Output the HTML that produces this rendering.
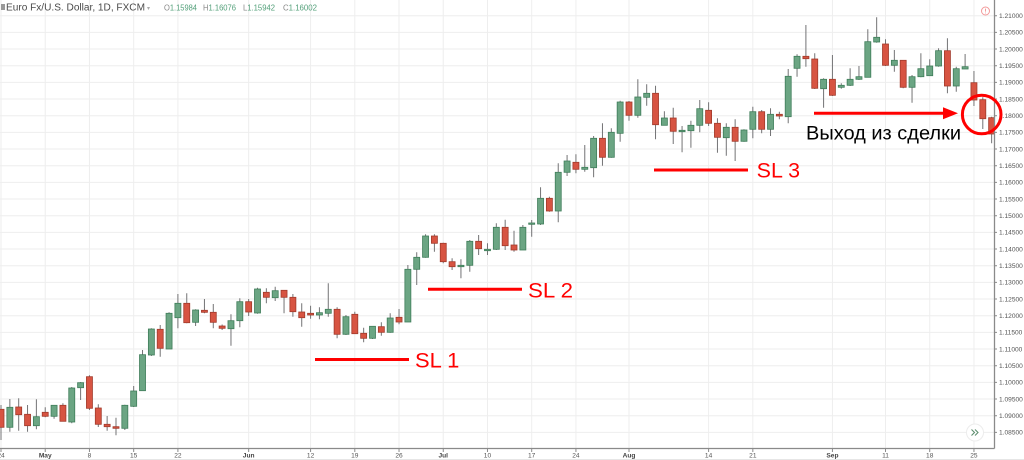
<!DOCTYPE html>
<html><head><meta charset="utf-8"><style>
html,body{margin:0;padding:0;background:#fff;}
svg{display:block;}
.u{fill:#6ba583;stroke:#3f7d5a;stroke-width:.8}
.d{fill:#d75442;stroke:#a13a2b;stroke-width:.8}
.yl{font-family:"Liberation Sans",sans-serif;font-size:6.6px;fill:#555}
.xl{font-family:"Liberation Sans",sans-serif;font-size:6.6px;fill:#555;text-anchor:middle}
.xb{font-weight:bold;fill:#444}
.sl{font-family:"Liberation Sans",sans-serif;font-size:21px;fill:#ff0000}
</style></head><body>
<svg width="1024" height="460" viewBox="0 0 1024 460" xmlns="http://www.w3.org/2000/svg">
<rect width="1024" height="460" fill="#fff"/>
<defs><clipPath id="c"><rect x="0" y="0" width="994" height="448"/></clipPath></defs>
<g clip-path="url(#c)">
<g stroke="#eeeeee" stroke-width="1">
<path d="M0 15.7H994M0 32.37H994M0 49.03H994M0 65.7H994M0 82.37H994M0 99.03H994M0 115.7H994M0 132.37H994M0 149.03H994M0 165.7H994M0 182.37H994M0 199.03H994M0 215.7H994M0 232.37H994M0 249.03H994M0 265.7H994M0 282.37H994M0 299.03H994M0 315.7H994M0 332.37H994M0 349.03H994M0 365.7H994M0 382.37H994M0 399.03H994M0 415.7H994M0 432.37H994"/>
<path d="M1 0V448M45.23 0V448M89.45 0V448M133.68 0V448M177.9 0V448M248.66 0V448M310.58 0V448M354.8 0V448M399.03 0V448M443.25 0V448M487.48 0V448M531.7 0V448M575.93 0V448M629 0V448M708.6 0V448M752.83 0V448M832.43 0V448M885.5 0V448M929.73 0V448M973.95 0V448"/>
</g>
<path stroke="#737375" stroke-width="1" fill="none" d="M1 405V440M9.85 399V431.7M18.69 398.3V430.7M27.54 405V431.7M36.38 399.3V429.3M45.23 407.3V417.3M54.07 405.3V418.7M62.92 403.3V421.3M71.76 387V423.3M80.61 382V400M89.45 375.3V410M98.3 404.3V427M107.14 416V430.7M115.99 417.7V435.3M124.83 404.7V430M133.68 386V407M142.52 350V390.7M151.37 328.3V356M160.21 325V356.7M169.06 312.3V349M177.9 294V328.3M186.75 293.3V323.3M195.59 309.3V326M204.44 299V313.3M213.28 304V328.3M222.13 324.5V330M230.97 314.3V345.7M239.82 298.3V327.3M248.66 299V316M257.51 287.7V313.7M266.35 288.3V303.3M275.2 286.7V301M284.04 290V313.3M292.89 294V316.7M301.73 303.3V326.7M310.58 305.7V318.7M319.42 307.3V319.3M328.27 283.3V316.7M337.11 307.3V338.3M345.96 315V335M354.8 311.7V334M363.65 327.7V342.3M372.49 326V339M381.34 322.3V335.7M390.18 313.3V332.7M399.03 309V324.3M407.87 265V322M416.72 252.3V285M425.56 234.3V257.7M434.41 234.3V251.7M443.25 242.7V263.3M452.1 258.3V270M460.94 259.3V278.3M469.79 240V271.7M478.63 235V255M487.48 243.3V255M496.32 223.3V250M505.17 219.7V250M514.01 230.7V251.7M522.86 225V250M531.7 220V236.7M540.55 187.3V225M549.39 196.7V211.7M558.24 163.3V222.3M567.08 155V176M575.93 154.3V173.3M584.77 145V171.7M593.62 136V177.3M602.46 123.3V165.7M611.31 128.3V157.7M620.15 100.7V141.7M629 101V120.7M637.84 79.3V117.7M646.69 84.3V105.7M655.53 85.7V139.3M664.38 111.3V125.3M673.22 107.7V144M682.07 126V152.3M690.91 120.7V147.7M699.76 100V132.3M708.6 102.3V126M717.45 118.3V152.7M726.29 123.3V155.7M735.14 119.3V161M743.98 129.3V141.7M752.83 106.7V138.3M761.67 110V133.3M770.52 108.3V136M779.36 111.7V119.3M788.21 69V123.3M797.05 54.3V76.7M805.9 25V66.7M814.74 53.3V89M823.59 78.3V107.7M832.43 55V96M841.28 83.3V88.7M850.12 68.3V86M858.97 66V80M867.81 29.3V77.3M876.66 17.3V42.7M885.5 39.3V66M894.35 50V71.7M903.19 60V88.3M912.04 75V102.7M920.88 53.3V77.3M929.73 59.3V76M938.57 48.3V66.7M947.42 38.3V93.3M956.26 66.7V91.7M965.11 54V69M973.95 71V106M982.8 97.3V129M991.64 116.7V143.3"/>
<g class="u">
<rect x="6.85" y="407.3" width="6" height="20"/>
<rect x="33.38" y="416.7" width="6" height="9"/>
<rect x="51.07" y="405.3" width="6" height="11"/>
<rect x="68.76" y="388" width="6" height="34"/>
<rect x="77.61" y="382.7" width="6" height="5"/>
<rect x="121.83" y="405.3" width="6" height="23"/>
<rect x="130.68" y="391" width="6" height="15.3"/>
<rect x="139.52" y="354.7" width="6" height="36"/>
<rect x="148.37" y="329" width="6" height="26"/>
<rect x="166.06" y="313.3" width="6" height="35.7"/>
<rect x="174.9" y="303.3" width="6" height="14.4"/>
<rect x="192.59" y="310" width="6" height="12.3"/>
<rect x="227.97" y="320.7" width="6" height="8"/>
<rect x="236.82" y="301.7" width="6" height="19"/>
<rect x="254.51" y="289" width="6" height="24"/>
<rect x="272.2" y="290.7" width="6" height="7"/>
<rect x="316.42" y="312.7" width="6" height="2.3"/>
<rect x="325.27" y="309.3" width="6" height="4"/>
<rect x="342.96" y="316.7" width="6" height="17.6"/>
<rect x="369.49" y="326.3" width="6" height="12"/>
<rect x="387.18" y="318" width="6" height="14.3"/>
<rect x="404.87" y="269.3" width="6" height="52.7"/>
<rect x="413.72" y="257.3" width="6" height="12"/>
<rect x="422.56" y="236" width="6" height="21.3"/>
<rect x="457.94" y="265.3" width="6" height="1.4"/>
<rect x="466.79" y="241.3" width="6" height="24"/>
<rect x="484.48" y="249.3" width="6" height="1.4"/>
<rect x="493.32" y="227.3" width="6" height="22"/>
<rect x="519.86" y="227.3" width="6" height="22.7"/>
<rect x="528.7" y="223" width="6" height="1.3"/>
<rect x="537.55" y="198.3" width="6" height="25.7"/>
<rect x="555.24" y="172.3" width="6" height="38.7"/>
<rect x="564.08" y="161" width="6" height="11.3"/>
<rect x="581.77" y="167.3" width="6" height="2"/>
<rect x="590.62" y="138.3" width="6" height="29.4"/>
<rect x="608.31" y="132.3" width="6" height="25"/>
<rect x="617.15" y="102" width="6" height="31.3"/>
<rect x="634.84" y="97" width="6" height="18.3"/>
<rect x="643.69" y="93.3" width="6" height="4"/>
<rect x="661.38" y="118" width="6" height="7.3"/>
<rect x="679.07" y="130.3" width="6" height="1.4"/>
<rect x="687.91" y="125.3" width="6" height="5.4"/>
<rect x="696.76" y="108.7" width="6" height="16.6"/>
<rect x="723.29" y="127.3" width="6" height="10.4"/>
<rect x="740.98" y="130" width="6" height="11.3"/>
<rect x="749.83" y="111.7" width="6" height="17.6"/>
<rect x="767.52" y="114.3" width="6" height="15"/>
<rect x="785.21" y="76.3" width="6" height="40.4"/>
<rect x="794.05" y="56.3" width="6" height="12"/>
<rect x="820.59" y="79.3" width="6" height="9.4"/>
<rect x="838.28" y="85.3" width="6" height="2"/>
<rect x="847.12" y="79.3" width="6" height="6"/>
<rect x="855.97" y="76.7" width="6" height="2.6"/>
<rect x="864.81" y="41.7" width="6" height="35.6"/>
<rect x="873.66" y="37.3" width="6" height="4.7"/>
<rect x="891.35" y="60.3" width="6" height="5"/>
<rect x="909.04" y="76.7" width="6" height="10.6"/>
<rect x="917.88" y="68.7" width="6" height="8"/>
<rect x="926.73" y="66" width="6" height="9.7"/>
<rect x="935.57" y="50.7" width="6" height="15.3"/>
<rect x="953.26" y="68.7" width="6" height="17.3"/>
<rect x="962.11" y="66.7" width="6" height="2.3"/>
</g>
<g class="d">
<rect x="-2" y="409.3" width="6" height="18"/>
<rect x="15.69" y="407" width="6" height="7.7"/>
<rect x="24.54" y="414.3" width="6" height="11.4"/>
<rect x="42.23" y="412.3" width="6" height="4"/>
<rect x="59.92" y="405.3" width="6" height="16"/>
<rect x="86.45" y="376.7" width="6" height="31.6"/>
<rect x="95.3" y="408" width="6" height="16.3"/>
<rect x="104.14" y="424.3" width="6" height="2.4"/>
<rect x="112.99" y="426.7" width="6" height="1.6"/>
<rect x="157.21" y="329.3" width="6" height="19"/>
<rect x="183.75" y="303.3" width="6" height="19.4"/>
<rect x="201.44" y="310.3" width="6" height="2"/>
<rect x="210.28" y="312.3" width="6" height="10"/>
<rect x="219.13" y="326" width="6" height="2.3"/>
<rect x="245.66" y="301.7" width="6" height="10.3"/>
<rect x="263.35" y="292.3" width="6" height="5"/>
<rect x="281.04" y="290.3" width="6" height="7"/>
<rect x="289.89" y="297.3" width="6" height="14.4"/>
<rect x="298.73" y="312" width="6" height="5.7"/>
<rect x="307.58" y="313.3" width="6" height="1.7"/>
<rect x="334.11" y="309.3" width="6" height="25"/>
<rect x="351.8" y="314.3" width="6" height="19.4"/>
<rect x="360.65" y="333.3" width="6" height="5"/>
<rect x="378.34" y="326.7" width="6" height="5.6"/>
<rect x="396.03" y="317.3" width="6" height="4.7"/>
<rect x="431.41" y="236" width="6" height="7.3"/>
<rect x="440.25" y="243.3" width="6" height="18.4"/>
<rect x="449.1" y="261.7" width="6" height="5"/>
<rect x="475.63" y="241.3" width="6" height="7.4"/>
<rect x="502.17" y="227.3" width="6" height="18.4"/>
<rect x="511.01" y="245" width="6" height="5"/>
<rect x="546.39" y="198.3" width="6" height="12.7"/>
<rect x="572.93" y="162.3" width="6" height="7"/>
<rect x="599.46" y="138.3" width="6" height="19"/>
<rect x="626" y="102" width="6" height="13.3"/>
<rect x="652.53" y="93.3" width="6" height="31.4"/>
<rect x="670.22" y="118" width="6" height="13.3"/>
<rect x="705.6" y="110.3" width="6" height="13"/>
<rect x="714.45" y="123.3" width="6" height="14"/>
<rect x="732.14" y="127.3" width="6" height="14"/>
<rect x="758.67" y="111.7" width="6" height="17.6"/>
<rect x="776.36" y="114.3" width="6" height="1.7"/>
<rect x="802.9" y="56.3" width="6" height="2.4"/>
<rect x="811.74" y="59" width="6" height="29.3"/>
<rect x="829.43" y="79.3" width="6" height="16"/>
<rect x="882.5" y="44" width="6" height="21.3"/>
<rect x="900.19" y="60.3" width="6" height="27"/>
<rect x="944.42" y="50.7" width="6" height="35.3"/>
<rect x="970.95" y="82.7" width="6" height="17.3"/>
<rect x="979.8" y="99.7" width="6" height="19"/>
<rect x="988.64" y="117.7" width="6" height="16.3"/>
</g>
</g>
<path d="M994.5 0V448.5M0 448.5H994.5" stroke="#8a8a8a" stroke-width="1.3" fill="none"/>
<path d="M0 459.5H1024" stroke="#e6e6e6" stroke-width="1"/>
<path stroke="#8a8a8a" stroke-width="1" d="M994 15.7h3M994 32.37h3M994 49.03h3M994 65.7h3M994 82.37h3M994 99.03h3M994 115.7h3M994 132.37h3M994 149.03h3M994 165.7h3M994 182.37h3M994 199.03h3M994 215.7h3M994 232.37h3M994 249.03h3M994 265.7h3M994 282.37h3M994 299.03h3M994 315.7h3M994 332.37h3M994 349.03h3M994 365.7h3M994 382.37h3M994 399.03h3M994 415.7h3M994 432.37h3M1 449v3M45.23 449v3M89.45 449v3M133.68 449v3M177.9 449v3M248.66 449v3M310.58 449v3M354.8 449v3M399.03 449v3M443.25 449v3M487.48 449v3M531.7 449v3M575.93 449v3M629 449v3M708.6 449v3M752.83 449v3M832.43 449v3M885.5 449v3M929.73 449v3M973.95 449v3"/>
<g class="yl">
<text x="999" y="18">1.21000</text><text x="999" y="34.7">1.20500</text><text x="999" y="51.3">1.20000</text><text x="999" y="68">1.19500</text><text x="999" y="84.7">1.19000</text><text x="999" y="101.3">1.18500</text><text x="999" y="118">1.18000</text><text x="999" y="134.7">1.17500</text><text x="999" y="151.3">1.17000</text><text x="999" y="168">1.16500</text><text x="999" y="184.7">1.16000</text><text x="999" y="201.3">1.15500</text><text x="999" y="218">1.15000</text><text x="999" y="234.7">1.14500</text><text x="999" y="251.3">1.14000</text><text x="999" y="268">1.13500</text><text x="999" y="284.7">1.13000</text><text x="999" y="301.3">1.12500</text><text x="999" y="318">1.12000</text><text x="999" y="334.7">1.11500</text><text x="999" y="351.3">1.11000</text><text x="999" y="368">1.10500</text><text x="999" y="384.7">1.10000</text><text x="999" y="401.3">1.09500</text><text x="999" y="418">1.09000</text><text x="999" y="434.7">1.08500</text>
</g>
<g class="xl">
<text x="1" y="457.5">24</text><text class="xb" x="45.23" y="457.5">May</text><text x="89.45" y="457.5">8</text><text x="133.68" y="457.5">15</text><text x="177.9" y="457.5">22</text><text class="xb" x="248.66" y="457.5">Jun</text><text x="310.58" y="457.5">12</text><text x="354.8" y="457.5">19</text><text x="399.03" y="457.5">26</text><text class="xb" x="443.25" y="457.5">Jul</text><text x="487.48" y="457.5">10</text><text x="531.7" y="457.5">17</text><text x="575.93" y="457.5">24</text><text class="xb" x="629" y="457.5">Aug</text><text x="708.6" y="457.5">14</text><text x="752.83" y="457.5">21</text><text class="xb" x="832.43" y="457.5">Sep</text><text x="885.5" y="457.5">11</text><text x="929.73" y="457.5">18</text><text x="973.95" y="457.5">25</text>
</g>
<rect x="1" y="4" width="4" height="6" fill="#999"/>
<text x="6" y="10.7" font-family="Liberation Sans, sans-serif" font-size="10" fill="#4a4a4a" textLength="139" lengthAdjust="spacingAndGlyphs">Euro Fx/U.S. Dollar, 1D, FXCM</text>
<text x="147" y="10" font-family="Liberation Sans, sans-serif" font-size="6" fill="#aaa">▾</text>
<g font-family="Liberation Sans, sans-serif" font-size="8.4">
<text x="164" y="10.5" fill="#888" textLength="33" lengthAdjust="spacingAndGlyphs">O<tspan fill="#53a07a">1.15984</tspan></text>
<text x="203" y="10.5" fill="#888" textLength="33" lengthAdjust="spacingAndGlyphs">H<tspan fill="#53a07a">1.16076</tspan></text>
<text x="243" y="10.5" fill="#888" textLength="32" lengthAdjust="spacingAndGlyphs">L<tspan fill="#53a07a">1.15942</tspan></text>
<text x="283" y="10.5" fill="#888" textLength="34" lengthAdjust="spacingAndGlyphs">C<tspan fill="#53a07a">1.16002</tspan></text>
</g>
<circle cx="985.5" cy="11" r="4" fill="#fff" stroke="#f39a9a" stroke-width="1"/>
<path d="M985.5 8.6V11.6M985.5 12.6V13.4" stroke="#f39a9a" stroke-width="1"/>
<circle cx="975" cy="432.5" r="8.5" fill="#fff" stroke="#ececec" stroke-width="1"/>
<path d="M971.5 429.5l3 3-3 3M975 429.5l3 3-3 3" stroke="#5f8f70" stroke-width="1.1" fill="none"/>
<g stroke="#ff0000" stroke-width="3" fill="none">
<path d="M315 359.5H409M428 289.3H522M654 170H748M814 113.3H946"/>
<circle cx="981.7" cy="114.5" r="19.3"/>
</g>
<polygon points="943,107.3 958,113.3 943,119.3" fill="#ff0000"/>
<text class="sl" x="415" y="367.5" textLength="44.3" lengthAdjust="spacingAndGlyphs">SL 1</text>
<text class="sl" x="528" y="297.3" textLength="45" lengthAdjust="spacingAndGlyphs">SL 2</text>
<text class="sl" x="756.7" y="177.3" textLength="43.3" lengthAdjust="spacingAndGlyphs">SL 3</text>
<text x="806" y="139.3" font-family="Liberation Sans, sans-serif" font-size="19.5" fill="#000" textLength="155" lengthAdjust="spacingAndGlyphs">Выход из сделки</text>
</svg>
</body></html>
